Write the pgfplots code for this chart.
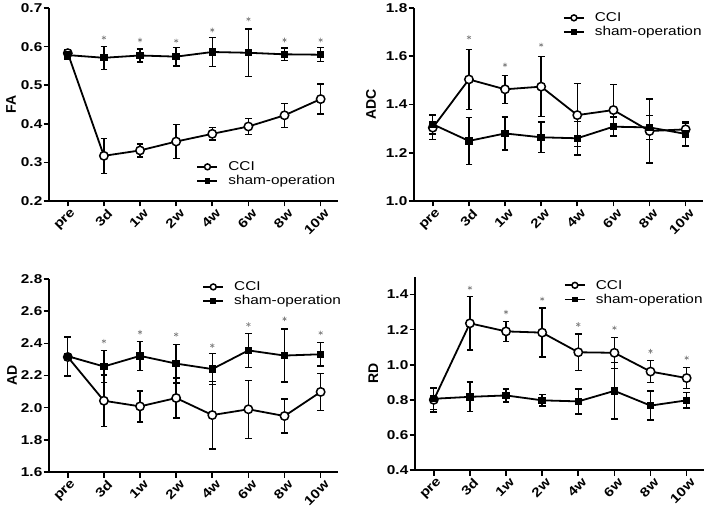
\documentclass[border=0pt]{standalone}
\usepackage{fontspec}
\setmainfont{Liberation Sans}
\usepackage{graphicx}
\usepackage{pgfplots}
\pgfplotsset{compat=1.18}
\newcommand\sx[1]{\scalebox{1.2}[1]{#1}}
\pgfplotsset{
 panel/.style={
  scale only axis, width=289pt, height=193pt,
  xmin=-0.52, xmax=7.48,
  axis x line*=bottom, axis y line*=left,
  axis line style={-, line width=1.8pt},
  tick style={line width=1.6pt, black},
  tick align=outside, major tick length=5.5pt,
  xtick={0,...,7}, xticklabels={\sx{pre},\sx{3d},\sx{1w},\sx{2w},\sx{4w},\sx{6w},\sx{8w},\sx{10w}},
  x tick label style={rotate=45, anchor=north east, font=\bfseries\fontsize{12.8}{14}\selectfont, inner sep=1pt, xshift=2pt, yshift=-2pt},
  y tick label style={font=\bfseries\fontsize{12.8}{14}\selectfont, inner sep=1pt},
  yticklabel={\sx{\pgfmathprintnumber{\tick}}},
  /pgf/number format/.cd, fixed, fixed zerofill, precision=1, assume math mode=true, /pgfplots/.cd,
  every axis y label/.style={at={(axis description cs:-0.131,0.5)}, rotate=90, anchor=center, font=\bfseries\fontsize{14}{16}\selectfont},
  legend style={draw=none, fill=none, font=\fontsize{12.8}{14}\selectfont, anchor=west, row sep=1.5pt, inner sep=0pt,
    nodes={inner sep=1pt}, column sep=9pt},
  legend cell align=left,
 },
 lgd/.style={legend image code/.code={\draw[mark repeat=2,mark phase=2,every mark/.append style={scale=0.7},##1] plot coordinates {(0pt,0pt) (10pt,0pt) (20pt,0pt)};}},
 ebar/.style={error bars/.cd, y dir=both, y explicit, error bar style={line width=1.4pt, black}, error mark options={rotate=90, mark size=3.4pt, line width=1.4pt, black}},
 cci/.style={black, line width=1.8pt, mark=*, mark size=4.2pt, mark options={fill=white, line width=1.5pt}, lgd, ebar},
 sham/.style={black, line width=1.8pt, mark=square*, mark size=2.8pt, mark options={fill=black}, lgd, ebar},
 star/.style={only marks, mark=asterisk, mark size=2.3pt, gray, mark options={line width=0.6pt}},
}
\begin{document}
\begin{tikzpicture}
\useasboundingbox (0,0) rectangle (708pt,511pt);
% FA
\begin{axis}[panel, at={(49pt,310pt)}, anchor=south west, ymin=0.2, ymax=0.7, ytick={0.2,0.3,...,0.7}, ylabel={FA},
  legend style={at={(0.51,0.14)}}]
\addplot+[cci] table[x=x,y=y,y error=e] {
x y e
0 0.583 0.010
1 0.317 0.045
2 0.331 0.017
3 0.354 0.044
4 0.374 0.016
5 0.393 0.020
6 0.422 0.031
7 0.464 0.039
};
\addplot+[sham] table[x=x,y=y,y error=e] {
x y e
0 0.578 0.012
1 0.571 0.030
2 0.577 0.017
3 0.574 0.024
4 0.586 0.037
5 0.584 0.062
6 0.580 0.016
7 0.579 0.018
};
\addplot[star, forget plot] coordinates {(1,0.623) (2,0.617) (3,0.615) (4,0.643) (5,0.671) (6,0.617) (7,0.617)};
\legend{\sx{CCI}, \sx{sham-operation}}
\end{axis}
% ADC
\begin{axis}[panel, at={(414pt,310pt)}, anchor=south west, ymin=1.0, ymax=1.8, ytick={1.0,1.2,...,1.8}, ylabel={ADC},
  every axis y label/.append style={at={(axis description cs:-0.149,0.5)}},
  legend style={at={(0.515,0.912)}}]
\addplot+[cci] table[x=x,y=y,y error=e] {
x y e
0 1.304 0.050
1 1.504 0.125
2 1.463 0.058
3 1.474 0.124
4 1.356 0.130
5 1.377 0.105
6 1.290 0.132
7 1.297 0.025
};
\addplot+[sham] table[x=x,y=y,y error=e] {
x y e
0 1.318 0.040
1 1.249 0.098
2 1.280 0.068
3 1.264 0.064
4 1.260 0.070
5 1.308 0.040
6 1.305 0.050
7 1.278 0.050
};
\addplot[star, forget plot] coordinates {(1,1.678) (2,1.564) (3,1.647)};
\legend{\sx{CCI}, \sx{sham-operation}}
\end{axis}
% AD
\begin{axis}[panel, at={(49pt,39pt)}, anchor=south west, ymin=1.6, ymax=2.8, ytick={1.6,1.8,...,2.8}, ylabel={AD},
  every axis y label/.append style={at={(axis description cs:-0.128,0.5)}},
  legend style={at={(0.53,0.922)}}]
\addplot+[cci] table[x=x,y=y,y error=e] {
x y e
0 2.315 0.120
1 2.043 0.160
2 2.008 0.096
3 2.060 0.125
4 1.954 0.210
5 1.990 0.180
6 1.948 0.105
7 2.098 0.115
};
\addplot+[sham] table[x=x,y=y,y error=e] {
x y e
0 2.320 0.120
1 2.256 0.100
2 2.322 0.090
3 2.274 0.120
4 2.240 0.095
5 2.356 0.105
6 2.324 0.165
7 2.332 0.073
};
\addplot[star, forget plot] coordinates {(1,2.413) (2,2.469) (3,2.455) (4,2.386) (5,2.517) (6,2.552) (7,2.465)};
\legend{\sx{CCI}, \sx{sham-operation}}
\end{axis}
% RD
\begin{axis}[panel, at={(415pt,41pt)}, anchor=south west, ymin=0.4, ymax=1.5, ytick={0.4,0.6,...,1.4}, ylabel={RD},
  every axis y label/.append style={at={(axis description cs:-0.144,0.5)}},
  legend style={at={(0.515,0.92)}}]
\addplot+[cci] table[x=x,y=y,y error=e] {
x y e
0 0.800 0.070
1 1.236 0.153
2 1.190 0.057
3 1.183 0.140
4 1.071 0.103
5 1.068 0.088
6 0.961 0.063
7 0.924 0.060
};
\addplot+[sham] table[x=x,y=y,y error=e] {
x y e
0 0.806 0.060
1 0.817 0.084
2 0.825 0.037
3 0.797 0.033
4 0.791 0.071
5 0.851 0.160
6 0.767 0.083
7 0.797 0.044
};
\addplot[star, forget plot] coordinates {(1,1.438) (2,1.300) (3,1.375) (4,1.229) (5,1.210) (6,1.077) (7,1.039)};
\legend{\sx{CCI}, \sx{sham-operation}}
\end{axis}
\end{tikzpicture}
\end{document}
